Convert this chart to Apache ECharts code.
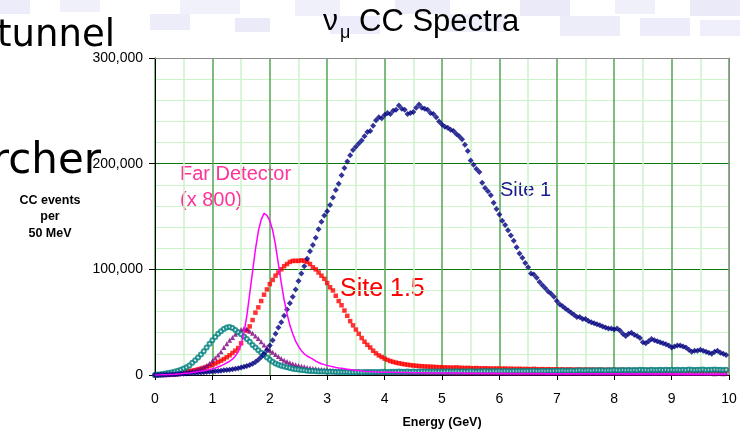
<!DOCTYPE html>
<html><head><meta charset="utf-8">
<script src="https://cdn.jsdelivr.net/npm/echarts@6/dist/echarts.min.js"></script>
<style>html,body{margin:0;padding:0;background:#fff}#c{width:740px;height:431px}</style>
</head><body><div id="c"></div>
<script>
// ---- data (values in thousands of CC events per 50 MeV bin) ----
const binWidthGeV = 0.05;
const xTickValues = [0,1,2,3,4,5,6,7,8,9,10];
const yTickValues = [0, 100000, 200000, 300000];

const site1 = [
0,0.1,0.2,0.3,0.4,0.5,0.7,0.8,1.0,1.1,1.3,1.5,1.7,1.8,2.0,2.2,2.4,2.7,2.9,3.1,
3.3,3.6,3.8,4.1,4.4,4.7,5.0,5.5,6.0,6.5,7.1,7.8,8.5,9.5,10.6,12.4,14.5,17,20,23.5,
28,33,39,45,50,56,62,68,74,81,89,96,103,110,117,123,130,138,145,151,
155,161,168,175,181,189,196,202,208,213,216,219,222,226,230,231,236,241,244,243,
246,248,247,250,251,255,252,251,247,248,249,253,256,253,252,251,248,247,244,240,
237,235,234,232,231,228,226,223,218,212,203,199,195,192,182,177,174,170,163,157,
152,146,142,137,132,127,121,115,111,106,102,96,95,92,88,85,82,79,77,74,
70,67,65,63,61,59,57,55,55,53,53,51,50,49,48,47,46,45,44,44,
43,44,42,39,37,39,40,38,37,35,31,30,32,34,33,32,31,30,29,28,
26,27,28,28,27,26,24,22,23,23,24,23,22,21,20,22,23,21,20,19
];
const site15 = [
0,0.2,0.4,0.6,0.8,1.0,1.3,1.6,2.0,2.4,2.8,3.2,3.6,4.1,4.6,5.2,5.9,6.7,7.6,8.6,
9.7,10.9,12.2,13.6,15.1,16.8,18.7,20.8,23.0,25.5,30,36,42,46,52,59,64,70,76,81,
86,90,94,97,100,103,105,107,108,108,108,108.5,108,107,105,102,100,97,94,91,
87,83,80,75,70,66,61,56,51,47,43,39,35,31.5,28.5,26,23,20.5,18.5,17,
15.5,14.3,13.2,12.4,11.7,11.1,10.6,10.1,9.7,9.3,9.0,8.7,8.5,8.3,8.1,8.0,7.8,7.7,7.5,7.4,
7.3,7.2,7.1,7.0,6.9,7.2,6.8,6.7,6.6,6.7,6.5,6.4,6.6,6.3,6.2,6.4,6.2,6.1,6.0,6.2,
6.0,5.9,6.1,5.8,5.9,5.8,5.7,5.9,5.6,5.7,5.6,5.5,5.8,5.5,5.4,5.6,5.3,5.5,5.4,5.3,
5.4,5.2,5.3,5.1,5.3,5.2,5.0,5.2,5.1,5.0,5.2,4.9,5.1,5.0,4.8,5.1,4.9,4.8,5.0,4.8,
4.9,4.7,4.9,4.8,4.6,4.9,4.7,4.6,4.8,4.6,4.7,4.5,4.8,4.6,4.5,4.7,4.5,4.6,4.4,4.6,
4.5,4.4,4.6,4.3,4.5,4.4,4.3,4.5,4.2,4.4,4.3,4.2,4.4,4.1,4.3,4.2,4.1,4.3,4.0,4.2
];
const farDetectorX800 = [
0,0.1,0.15,0.25,0.35,0.45,0.55,0.7,0.9,1.1,1.4,1.7,2.0,2.4,2.8,3.2,3.6,4.1,4.6,5.2,
5.8,6.6,7.6,8.7,10,11.5,13,15,18,22,29,40,56,77,98,119,136,147,153,151,
146,137,123,105,87,71,58,47,39,32,27,23,20,18,16.5,15,13.2,11.8,10.7,9.8,
9.0,8.4,7.8,7.2,6.7,6.3,5.9,5.5,5.1,4.8,4.5,4.2,3.9,3.6,3.4,3.2,3.0,2.9,2.8,2.7,
2.6,2.6,2.5,2.5,2.4,2.4,2.3,2.3,2.3,2.2,2.2,2.2,2.1,2.1,2.1,2.0,2.0,2.0,2.0,1.9,
1.9,1.9,1.9,1.8,1.9,1.8,1.8,1.8,1.7,1.8,1.7,1.7,1.7,1.7,1.6,1.7,1.6,1.6,1.6,1.6,
1.6,1.5,1.6,1.5,1.5,1.5,1.5,1.5,1.4,1.5,1.4,1.4,1.4,1.4,1.4,1.4,1.3,1.4,1.3,1.3,
1.3,1.3,1.3,1.3,1.3,1.2,1.3,1.2,1.2,1.2,1.2,1.2,1.2,1.2,1.1,1.2,1.1,1.1,1.1,1.1,
1.1,1.1,1.1,1.1,1.0,1.1,1.0,1.0,1.0,1.0,1.0,1.0,1.0,1.0,0.9,1.0,0.9,0.9,0.9,0.9,
0.9,0.9,0.9,0.9,0.9,0.8,0.9,0.8,0.8,0.8,0.8,0.8,0.8,0.8,0.8,0.8,0.7,0.8,0.7,0.7
];
const sitePurple = [
0,0.05,0.1,0.2,0.3,0.4,0.55,0.75,1.0,1.4,1.9,2.5,3.2,4.0,4.8,5.7,6.6,7.6,9.0,11.0,
13.5,16,19,22,26,29.5,33,35.5,38.5,41,43,44,43.5,41.5,39.5,37,34.5,31.5,28.5,26,
23.5,21.5,19.5,17.5,15.5,14,12.8,11.7,10.7,9.8,9.0,8.3,7.7,7.2,6.7,6.2,5.8,5.5,5.2,4.9,
4.7,4.5,4.3,4.1,3.9,3.7,3.6,3.5,3.4,3.3,3.2,3.1,3.0,3.0,2.9,2.8,2.8,2.7,2.7,2.6,
2.6,2.6,2.5,2.6,2.5,2.5,2.4,2.5,2.4,2.4,2.4,2.3,2.4,2.3,2.3,2.4,2.3,2.2,2.3,2.2,
2.3,2.2,2.2,2.1,2.2,2.2,2.1,2.2,2.1,2.1,2.2,2.1,2.0,2.1,2.1,2.0,2.1,2.0,2.1,2.0,
2.0,2.1,2.0,2.0,1.9,2.0,2.0,1.9,2.0,1.9,2.0,1.9,1.9,2.0,1.9,1.9,1.8,1.9,1.9,1.8,
1.9,1.8,1.9,1.8,1.8,1.9,1.8,1.8,1.7,1.8,1.8,1.7,1.8,1.8,1.7,1.8,1.7,1.7,1.8,1.7,
1.7,1.7,1.6,1.7,1.7,1.6,1.7,1.6,1.7,1.6,1.6,1.7,1.6,1.6,1.5,1.6,1.6,1.5,1.6,1.5,
1.5,1.6,1.5,1.5,1.5,1.4,1.5,1.5,1.4,1.5,1.4,1.4,1.5,1.4,1.4,1.3,1.4,1.4,1.3,1.4
];
const siteTeal = [
0,0.4,0.8,1.2,1.6,2.1,2.7,3.3,4.1,5.0,6.1,7.4,9.0,11.5,14,16.5,19.5,22.5,26,29.5,
33,36,39,41.5,43.5,45,45.5,44.5,42.5,40.5,38.5,36.5,34,31.5,28.5,26,23.5,21,19,16.5,
14.5,12.5,11,9.8,8.8,8.0,7.3,6.6,6.0,5.5,5.1,4.7,4.4,4.1,3.9,3.7,3.5,3.4,3.3,3.2,
3.1,3.0,3.0,2.9,2.9,2.8,2.8,2.8,2.7,2.7,2.7,2.8,2.7,2.8,2.8,2.9,2.8,2.9,2.9,3.0,
3.0,2.9,3.1,3.0,3.1,3.2,3.0,3.1,3.2,3.1,3.3,3.1,3.2,3.3,3.2,3.4,3.2,3.3,3.4,3.3,
3.4,3.3,3.5,3.4,3.3,3.5,3.4,3.6,3.4,3.5,3.6,3.5,3.4,3.6,3.5,3.7,3.5,3.6,3.7,3.6,
3.7,3.6,3.8,3.7,3.6,3.8,3.7,3.9,3.7,3.8,3.9,3.8,4.0,3.8,3.9,4.0,3.9,4.1,3.9,4.0,
4.1,4.0,4.2,4.0,4.1,4.3,4.1,4.2,4.4,4.2,4.3,4.5,4.3,4.4,4.6,4.4,4.5,4.3,4.6,4.5,
4.7,4.5,4.6,4.8,4.6,4.7,4.5,4.8,4.6,4.9,4.7,4.8,4.6,4.9,4.7,4.8,5.0,4.7,4.9,4.8,
5.0,4.8,4.9,4.7,5.0,4.8,5.1,4.9,4.8,5.0,4.9,5.1,4.8,5.0,4.9,5.1,4.9,5.0,4.8,5.0
];

// ---- build ----
const energies = site1.map((_, i) => Math.round(i * binWidthGeV * 100) / 100);
const toPts = arr => arr.map((v, i) => [energies[i], v * 1000]);

const FONT = '"Liberation Sans", Arial, sans-serif';
const chart = echarts.init(document.getElementById('c'), null, {renderer: 'canvas'});

const bgBlocks = [
  [0,0,30,14,'#ececfa'],[60,0,40,12,'#f0f0fb'],[150,14,40,16,'#ededfa'],
  [180,0,60,14,'#f1f1fc'],[235,18,35,14,'#eaeaf9'],[295,0,45,16,'#f0f0fb'],
  [330,16,50,18,'#ececfa'],[395,0,55,14,'#ededfa'],[445,14,60,18,'#efeffb'],
  [520,0,50,16,'#eaeaf9'],[560,16,60,20,'#ededfa'],[615,0,40,14,'#f0f0fb'],
  [640,18,50,18,'#ececfa'],[690,0,50,16,'#eaeaf9'],[700,20,40,16,'#efeffb']
];

const option = {
  animation: false,
  backgroundColor: '#ffffff',
  textStyle: {fontFamily: FONT},
  grid: {left: 155, right: 11, top: 58, bottom: 56, containLabel: false, outerBoundsMode: 'none'},
  xAxis: [{
    type: 'value', min: 0, max: 10, interval: 1,
    axisLine: {show: true, onZero: false, lineStyle: {color: '#000', width: 1}},
    axisTick: {show: true, length: 5, lineStyle: {color: '#000'}},
    axisLabel: {fontSize: 14, color: '#000', margin: 17, fontFamily: FONT},
    minorTick: {show: false, splitNumber: 2},
    splitLine: {show: true, lineStyle: {color: '#5fa95f', width: 1.6}},
    minorSplitLine: {show: true, lineStyle: {color: '#ccf2cc', width: 1.5}},
    name: 'Energy (GeV)', nameLocation: 'middle', nameGap: 41,
    nameTextStyle: {fontSize: 12.5, fontWeight: 'bold', color: '#000', fontFamily: FONT,
      verticalAlign: 'top'}
  }, {
    type: 'value', min: 0, max: 10, position: 'top',
    axisLine: {show: true, onZero: false, lineStyle: {color: '#8c8c8c', width: 1}},
    axisTick: {show: false}, axisLabel: {show: false}, splitLine: {show: false}
  }],
  yAxis: [{
    type: 'value', min: 0, max: 300000, interval: 100000,
    axisLine: {show: true, onZero: false, lineStyle: {color: '#000', width: 1}},
    axisTick: {show: true, length: 6, lineStyle: {color: '#000'}},
    axisLabel: {fontSize: 14, color: '#000', margin: 12, fontFamily: FONT,
      formatter: v => yTickValues.includes(v) ? v.toLocaleString('en-US') : ''},
    minorTick: {show: false, splitNumber: 5},
    splitLine: {show: true, lineStyle: {color: '#0a780a', width: 1}},
    minorSplitLine: {show: true, lineStyle: {color: '#ccf5cc', width: 1}}
  }, {
    type: 'value', min: 0, max: 300000, position: 'right',
    axisLine: {show: true, onZero: false, lineStyle: {color: '#8c8c8c', width: 1}},
    axisTick: {show: false}, axisLabel: {show: false}, splitLine: {show: false}
  }],
  series: [
    {name: 'Site 1.5', type: 'scatter', data: toPts(site15), symbol: 'rect', symbolSize: 4.5,
     itemStyle: {color: '#ff0000'}},
    {name: 'Far Detector (x 800)', type: 'line', data: toPts(farDetectorX800), showSymbol: false,
     lineStyle: {color: '#ff00ff', width: 1.5}, itemStyle: {color: '#ff00ff'}},
    {name: 'Purple', type: 'scatter', data: toPts(sitePurple), symbol: 'triangle', symbolSize: 5,
     itemStyle: {color: '#800080'}},
    {name: 'Teal', type: 'scatter', data: toPts(siteTeal), symbol: 'emptyCircle', symbolSize: 4,
     itemStyle: {color: '#008080', borderColor: '#008080', borderWidth: 1}},
    {name: 'Site 1', type: 'scatter', data: toPts(site1), symbol: 'diamond', symbolSize: 6,
     itemStyle: {color: '#000080'}}
  ],
  graphic: [
    ...bgBlocks.map(b => ({type: 'rect', z: -10, silent: true,
      shape: {x: b[0], y: b[1], width: b[2], height: b[3]}, style: {fill: b[4]}})),
    {type: 'text', x: 115, y: 36, style: {text: 'tunnel', fontSize: 37, fontFamily: '"DejaVu Sans", sans-serif',
      fill: '#000', align: 'right', verticalAlign: 'middle'}},
    {type: 'text', x: 101, y: 162, style: {text: 'rcher', fontSize: 42, fontFamily: '"DejaVu Sans", sans-serif',
      fill: '#000', align: 'right', verticalAlign: 'middle'}},
    {type: 'text', x: 323, y: 22, style: {text: 'ν', fontSize: 30, fontFamily: FONT, fill: '#000', align: 'left', verticalAlign: 'middle'}},
    {type: 'text', x: 340, y: 33, style: {text: 'μ', fontSize: 18, fontFamily: FONT, fill: '#000', align: 'left', verticalAlign: 'middle'}},
    {type: 'text', x: 359, y: 22, style: {text: 'CC Spectra', fontSize: 31, fontFamily: FONT, fill: '#000', align: 'left', verticalAlign: 'middle'}},
    {type: 'text', x: 50, y: 217, style: {text: 'CC events\nper\n50 MeV', fontSize: 12.5, fontWeight: 'bold',
      fontFamily: FONT, fill: '#000', align: 'center', verticalAlign: 'middle', lineHeight: 16.5}},
    {type: 'text', x: 180, y: 174, style: {text: 'Far Detector', fontSize: 20, fontFamily: FONT, fill: '#ff3399', align: 'left', verticalAlign: 'middle'}},
    {type: 'text', x: 180, y: 200, style: {text: '(x 800)', fontSize: 20, fontFamily: FONT, fill: '#ff3399', align: 'left', verticalAlign: 'middle'}},
    {type: 'text', x: 500, y: 190, style: {text: 'Site 1', fontSize: 20, fontFamily: FONT, fill: '#1a1a8c', align: 'left', verticalAlign: 'middle'}},
    {type: 'text', x: 340, y: 289, style: {text: 'Site 1.5', fontSize: 25, fontFamily: FONT, fill: '#ff0000', align: 'left', verticalAlign: 'middle'}}
  ]
};
chart.setOption(option);
</script></body></html>
